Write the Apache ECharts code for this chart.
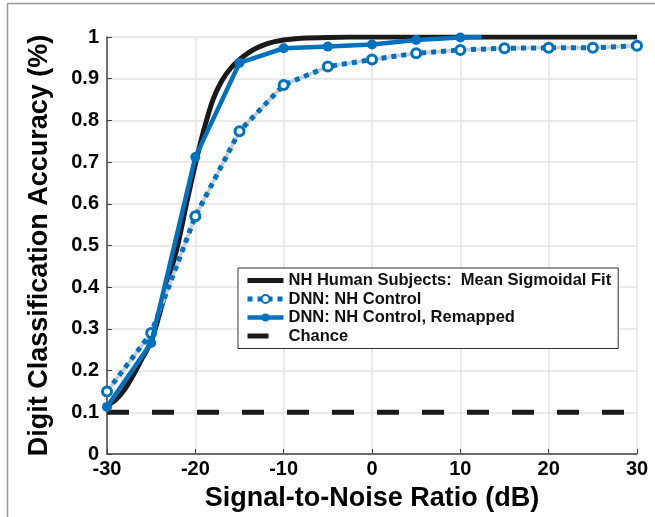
<!DOCTYPE html>
<html>
<head>
<meta charset="utf-8">
<script src="https://cdn.jsdelivr.net/npm/echarts@6/dist/echarts.min.js"></script>
<style>html,body{margin:0;padding:0;background:#fff}#c{width:655px;height:517px}</style>
</head>
<body>
<div id="c"></div>
<script>
// Data
var snr = [-30, -25, -20, -15, -10, -5, 0, 5, 10, 15, 20, 25, 30];
var dnnControl = [0.15, 0.29, 0.57, 0.774, 0.885, 0.929, 0.946, 0.961, 0.969, 0.973, 0.974, 0.974, 0.979];
var remapSnr = [-30, -25, -20, -15, -10, -5, 0, 5, 10];
var dnnRemapped = [0.113, 0.266, 0.712, 0.938, 0.973, 0.977, 0.982, 0.993, 0.999];
var remapTailSnr = 12.4, remapTailVal = 1.0;
var sigSnr = [-30, -29, -28, -27, -26, -25, -24, -23, -22, -21, -20, -19, -18, -17, -16, -15, -14, -13, -12, -11, -10, -8, -5, 0, 30];
var sigFit = [0.115, 0.13, 0.155, 0.19, 0.23, 0.27, 0.34, 0.42, 0.50, 0.60, 0.695, 0.78, 0.85, 0.895, 0.925, 0.946, 0.962, 0.974, 0.983, 0.989, 0.993, 0.997, 0.999, 1.0, 1.0];
var chanceSnr = [-30, 30];
var chanceVal = [0.1, 0.1];
var names = ['NH Human Subjects:  Mean Sigmoidal Fit', 'DNN: NH Control', 'DNN: NH Control, Remapped', 'Chance'];

function pairs(xs, ys) { return xs.map(function (x, i) { return [x, ys[i]]; }); }
var remapData = pairs(remapSnr, dnnRemapped);
remapData.push({ value: [remapTailSnr, remapTailVal], symbol: 'none' });

var BLUE = '#0072BD';
var FONT = 'Liberation Sans, Arial, sans-serif';
var noMarker = { color: 'rgba(0,0,0,0)', borderWidth: 0, borderColor: 'rgba(0,0,0,0)' };
var chart = echarts.init(document.getElementById('c'), null, { renderer: 'canvas' });
chart.setOption({
  animation: false,
  backgroundColor: '#fff',
  grid: { left: 107, right: 18, top: 37, bottom: 63, containLabel: false },
  xAxis: {
    type: 'value', min: -30, max: 30, interval: 10,
    name: 'Signal-to-Noise Ratio (dB)', nameLocation: 'middle', nameGap: 31,
    nameTextStyle: { fontFamily: FONT, fontWeight: 'bold', fontSize: 27, color: '#000' },
    axisLine: { show: true, onZero: false, lineStyle: { color: '#444', width: 1.5 } },
    axisTick: { show: true, inside: true, length: 5, lineStyle: { color: '#444' } },
    axisLabel: { fontFamily: FONT, fontWeight: 'bold', fontSize: 20, color: '#000', margin: 5 },
    splitLine: { show: true, lineStyle: { color: '#e3e3e3', width: 1.5 } }
  },
  yAxis: {
    type: 'value', min: 0, max: 1, interval: 0.1,
    name: 'Digit Classification Accuracy (%)', nameLocation: 'middle', nameGap: 54, nameRotate: 90,
    nameTextStyle: { fontFamily: FONT, fontWeight: 'bold', fontSize: 27, color: '#000' },
    axisLine: { show: true, onZero: false, lineStyle: { color: '#444', width: 1.5 } },
    axisTick: { show: true, inside: true, length: 5, lineStyle: { color: '#444' } },
    axisLabel: { fontFamily: FONT, fontWeight: 'bold', fontSize: 20, color: '#000', margin: 8,
      formatter: function (v) { return String(parseFloat(v.toFixed(1))); } },
    splitLine: { show: true, lineStyle: { color: '#e3e3e3', width: 1.5 } }
  },
  legend: {
    data: [
      { name: names[0], itemStyle: noMarker },
      { name: names[1] },
      { name: names[2] },
      { name: names[3], itemStyle: noMarker, lineStyle: { type: [21, 15] } }
    ],
    orient: 'vertical', left: 238, top: 268,
    backgroundColor: '#fff', borderColor: '#333', borderWidth: 1,
    padding: [4, 7, 4, 7], itemWidth: 36, itemHeight: 10, itemGap: 1.5,
    lineStyle: { width: 'inherit', type: 'inherit', color: 'inherit' },
    textStyle: { fontFamily: FONT, fontWeight: 'bold', fontSize: 16.5, color: '#111' },
    selectedMode: false
  },
  series: [
    { name: 'Chance', type: 'line', data: pairs(chanceSnr, chanceVal), symbol: 'none',
      lineStyle: { color: '#1a1a1a', width: 5, type: [22, 23] }, itemStyle: { color: '#1a1a1a' }, z: 2 },
    { name: names[0], type: 'line', data: pairs(sigSnr, sigFit), symbol: 'none', smooth: 0.3,
      lineStyle: { color: '#1a1a1a', width: 5 }, itemStyle: { color: '#1a1a1a' }, z: 3 },
    { name: 'underlay', type: 'line', data: pairs(snr, dnnControl), symbol: 'none',
      lineStyle: { color: '#c5ced6', width: 3.5 }, itemStyle: { color: '#c5ced6' }, z: 4 },
    { name: names[1], type: 'line', data: pairs(snr, dnnControl), symbol: 'circle', symbolSize: 9,
      lineStyle: { color: BLUE, width: 5, type: [5, 5] },
      itemStyle: { color: '#fff', borderColor: BLUE, borderWidth: 3 }, z: 5 },
    { name: names[2], type: 'line', data: remapData, symbol: 'circle', symbolSize: 10,
      lineStyle: { color: BLUE, width: 4.5 }, itemStyle: { color: BLUE }, z: 6 }
  ],
  graphic: [
    { type: 'line', shape: { x1: 7.5, y1: 3.5, x2: 7.5, y2: 517 }, style: { stroke: '#999', lineWidth: 1.5 } },
    { type: 'line', shape: { x1: 7.5, y1: 3.5, x2: 655, y2: 3.5 }, style: { stroke: '#999', lineWidth: 1.5 } }
  ]
});
</script>
</body>
</html>
